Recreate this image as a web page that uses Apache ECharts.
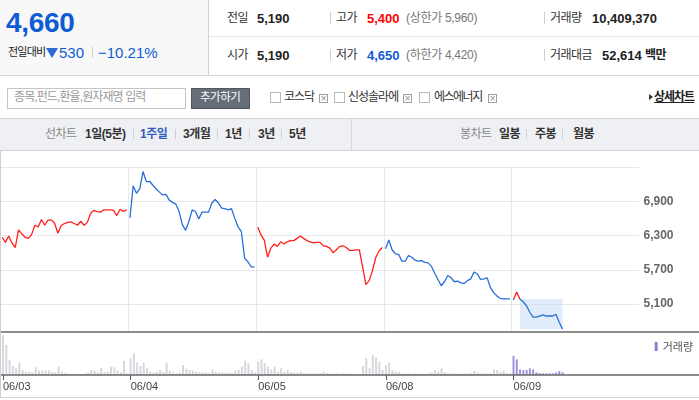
<!DOCTYPE html>
<html><head><meta charset="utf-8">
<script src="https://cdn.jsdelivr.net/npm/echarts@6/dist/echarts.min.js"></script>
<style>
body{margin:0;width:699px;height:400px;overflow:hidden;background:#fff;font-family:"Liberation Sans","Noto Sans CJK KR",sans-serif;position:relative}
.a{position:absolute;white-space:nowrap;line-height:1}
.k{font-size:12px;color:#333;letter-spacing:-0.5px}
.n{font-size:13px;font-weight:bold;color:#222}
.g{font-size:12px;color:#777;letter-spacing:-0.3px}
.vs{position:absolute;width:1px;background:#cfcfcf}
.cb{position:absolute;width:9px;height:9px;border:1px solid #b8b8b8;background:#fff}
.xb{position:absolute;width:7px;height:7px;border:1px solid #a0a0a0;font-size:8px;line-height:7px;text-align:center;color:#888;font-family:"DejaVu Sans"}
.t{position:absolute;top:128px;font-size:12px;line-height:12px;white-space:nowrap;letter-spacing:-0.5px}
</style></head><body>

<!-- header -->
<div style="position:absolute;left:0;top:0;width:208px;height:75px;background:#f8f8f8;border-right:1px solid #d2d2d2"></div>
<div style="position:absolute;left:0;top:75px;width:699px;height:1px;background:#d5d5d5"></div>
<div style="position:absolute;left:209px;top:36px;width:490px;height:1px;background:#e6e6e6"></div>

<div class="a" style="left:6px;top:9px;font-size:28px;font-weight:bold;color:#0f5bd5;letter-spacing:-0.3px">4,660</div>
<div class="a" style="left:8px;top:47px;font-size:11px;color:#222;letter-spacing:-0.8px">전일대비</div>
<div style="position:absolute;left:46px;top:48px;width:0;height:0;border-left:6px solid transparent;border-right:6px solid transparent;border-top:10px solid #2d6bd6"></div>
<div class="a" style="left:59px;top:45px;font-size:15px;color:#0f5bd5">530</div>
<div class="vs" style="left:92px;top:47px;height:11px;background:#d0d0d0"></div>
<div class="a" style="left:98px;top:45px;font-size:15px;color:#0f5bd5">−10.21%</div>

<div class="a k" style="left:227px;top:12px">전일</div>
<div class="a n" style="left:257px;top:12px">5,190</div>
<div class="vs" style="left:330px;top:12px;height:12px"></div>
<div class="a k" style="left:336px;top:12px">고가</div>
<div class="a n" style="left:367px;top:12px;color:#f00">5,400</div>
<div class="a g" style="left:406px;top:12px">(상한가 5,960)</div>
<div class="vs" style="left:544px;top:12px;height:12px"></div>
<div class="a k" style="left:550px;top:12px">거래량</div>
<div class="a n" style="left:592px;top:12px">10,409,370</div>

<div class="a k" style="left:227px;top:49px">시가</div>
<div class="a n" style="left:257px;top:49px">5,190</div>
<div class="vs" style="left:330px;top:49px;height:12px"></div>
<div class="a k" style="left:336px;top:49px">저가</div>
<div class="a n" style="left:367px;top:49px;color:#0f5bd5">4,650</div>
<div class="a g" style="left:406px;top:49px">(하한가 4,420)</div>
<div class="vs" style="left:544px;top:49px;height:12px"></div>
<div class="a k" style="left:550px;top:49px">거래대금</div>
<div class="a n" style="left:602px;top:49px">52,614</div>
<div class="a k" style="left:645px;top:49px;font-weight:bold;color:#222">백만</div>

<!-- search row -->
<div style="position:absolute;left:7px;top:88px;width:177px;height:19px;border:1px solid #c5c5c5;background:#fff"></div>
<div class="a" style="left:14px;top:91px;font-size:12px;color:#9a9a9a;letter-spacing:-0.9px">종목,펀드,환율,원자재명 입력</div>
<div style="position:absolute;left:191px;top:88px;width:57px;height:19px;background:#666e78;border:1px solid #50575f"></div>
<div class="a" style="left:200px;top:92px;font-size:11.5px;color:#fff;letter-spacing:-0.5px">추가하기</div>

<div class="cb" style="left:270px;top:92px"></div>
<div class="a" style="left:284px;top:91px;font-size:12px;color:#333;letter-spacing:-1px">코스닥</div>
<div class="xb" style="left:319px;top:94px">×</div>
<div class="cb" style="left:334px;top:92px"></div>
<div class="a" style="left:348px;top:91px;font-size:12px;color:#333;letter-spacing:-1px">신성솔라에</div>
<div class="xb" style="left:403px;top:94px">×</div>
<div class="cb" style="left:419px;top:92px"></div>
<div class="a" style="left:434px;top:91px;font-size:12px;color:#333;letter-spacing:-1.5px">에스에너지</div>
<div class="xb" style="left:488px;top:94px">×</div>
<div style="position:absolute;left:649px;top:94px;width:0;height:0;border-top:3px solid transparent;border-bottom:3px solid transparent;border-left:4px solid #333"></div>
<div class="a" style="left:654px;top:91px;font-size:12px;font-weight:bold;color:#222;text-decoration:underline;letter-spacing:-1px">상세차트</div>

<!-- tab bar -->
<div style="position:absolute;left:0;top:118px;width:699px;height:31px;background:#eef0f4;border-top:1px solid #d3d6dc;border-bottom:1px solid #d0d0d0"></div>
<div class="vs" style="left:351px;top:119px;height:31px;background:#d3d6dc"></div>
<div class="t" style="left:45px;color:#888">선차트</div>
<div class="t" style="left:85px;color:#333;font-weight:bold">1일(5분)</div>
<div class="vs" style="left:133px;top:129px;height:10px"></div>
<div class="t" style="left:140px;color:#3459bd;font-weight:bold">1주일</div>
<div class="vs" style="left:175px;top:129px;height:10px"></div>
<div class="t" style="left:183px;color:#333;font-weight:bold">3개월</div>
<div class="vs" style="left:217px;top:129px;height:10px"></div>
<div class="t" style="left:225px;color:#333;font-weight:bold">1년</div>
<div class="vs" style="left:249px;top:129px;height:10px"></div>
<div class="t" style="left:258px;color:#333;font-weight:bold">3년</div>
<div class="vs" style="left:281px;top:129px;height:10px"></div>
<div class="t" style="left:289px;color:#333;font-weight:bold">5년</div>
<div class="t" style="left:460px;color:#888">봉차트</div>
<div class="t" style="left:499px;color:#333;font-weight:bold">일봉</div>
<div class="vs" style="left:526px;top:129px;height:10px"></div>
<div class="t" style="left:535px;color:#333;font-weight:bold">주봉</div>
<div class="vs" style="left:562px;top:129px;height:10px"></div>
<div class="t" style="left:573px;color:#333;font-weight:bold">월봉</div>

<div id="chart" style="position:absolute;left:0;top:150px;width:699px;height:250px"></div>
<div style="position:absolute;left:0;top:151px;width:1px;height:247px;background:#cfcfcf;z-index:5"></div>
<div style="position:absolute;left:0;top:397px;width:699px;height:1px;background:#d5d5d5;z-index:5"></div>

<script>
// ---- data ----
const dates = ['06/03', '06/04', '06/05', '06/08', '06/09'];
const slotTimes = [];
for (let m = 0; m < 39; m++) {
  const t = 9 * 60 + m * 10;
  slotTimes.push(String(Math.floor(t / 60)).padStart(2, '0') + ':' + String(t % 60).padStart(2, '0'));
}
const prevClose = 5190;
const yTickValues = [5100, 5700, 6300, 6900, 7500];
const yLabelValues = [5100, 5700, 6300, 6900];

const priceDay1 = [6270,6180,6290,6170,6090,6400,6330,6270,6250,6320,6480,6450,6580,6480,6570,6570,6520,6340,6470,6510,6530,6540,6510,6480,6550,6480,6530,6690,6740,6720,6710,6750,6750,6750,6740,6650,6760,6720,6750];
const priceDay2 = [6610,7170,7040,7120,7420,7240,7250,7180,7120,7060,7010,7020,6920,6880,6850,6720,6490,6390,6550,6750,6720,6590,6710,6710,6710,6870,6930,6870,6780,6770,6750,6770,6600,6450,6370,5900,5840,5750,5750];
const priceDay3 = [6450,6310,6220,5920,6080,6150,6110,6190,6150,6190,6210,6210,6250,6290,6250,6210,6190,6170,6180,6180,6120,6110,6080,6000,6050,6110,6120,6090,6040,6040,6050,6050,5750,5440,5510,5680,5910,6030,6090];
const priceDay4 = [6070,6220,6050,5980,5970,5850,5850,5950,5920,5870,5850,5860,5830,5820,5760,5640,5530,5420,5490,5600,5560,5490,5500,5470,5460,5510,5540,5660,5630,5530,5540,5560,5390,5300,5240,5200,5190,5190,5190];
const priceDay5 = [5170,5310,5190,5140,5070,4960,4870,4870,4890,4910,4890,4890,4890,4920,4780,4660];

// volume, thousand shares
const volDay1 = [4800,3600,1800,1080,800,1480,600,400,360,320,920,520,520,520,560,360,320,1000,400,240,160,160,160,120,120,160,320,600,480,320,880,320,400,1000,920,520,320,1680,200];
const volDay2 = [2000,2600,1480,1080,1480,800,400,280,400,600,400,1480,520,320,200,280,1200,760,600,520,400,320,320,280,200,680,400,280,320,280,240,280,520,640,1000,1720,1400,600,320];
const volDay3 = [1600,1880,1400,1000,680,1000,400,800,400,600,320,280,280,400,240,200,200,200,200,200,400,240,200,200,200,160,200,200,160,120,120,120,1080,2000,800,2400,2120,1600,600];
const volDay4 = [1200,1480,600,400,320,200,200,200,160,160,160,160,160,200,320,600,400,800,360,200,200,200,160,200,200,200,240,480,320,200,200,200,200,680,600,400,520,240,200];
const volDay5 = [2280,1880,680,600,600,800,680,320,240,200,200,200,200,320,480,320];

// ---- build ----
const SLOTS = slotTimes.length;
const categories = [];
dates.forEach(d => slotTimes.forEach(t => categories.push(d + ' ' + t)));
const pastDays = [priceDay1, priceDay2, priceDay3, priceDay4];
const pad = (day, arr) => new Array(day * SLOTS).fill(null).concat(arr);
const volumes = [].concat(volDay1, volDay2, volDay3, volDay4, volDay5);
const todayStart = 4 * SLOTS;

const RED = '#ff1f1f', BLUE = '#2a6fd8';
const dayColors = [RED, BLUE, RED, BLUE];

const series = pastDays.map((arr, i) => ({
  type: 'line', xAxisIndex: 0, yAxisIndex: 0,
  data: pad(i, arr), showSymbol: false, connectNulls: false,
  lineStyle: { width: 1.3, color: dayColors[i] }, itemStyle: { color: dayColors[i] },
  silent: true
}));
series.push({
  type: 'line', xAxisIndex: 0, yAxisIndex: 0,
  data: pad(4, priceDay5), showSymbol: false,
  lineStyle: { width: 1.3, color: BLUE }, silent: true,
  markArea: {
    silent: true,
    itemStyle: { color: 'rgba(196,218,246,0.5)' },
    data: [[
      { xAxis: categories[todayStart + 2], yAxis: prevClose },
      { xAxis: categories[todayStart + priceDay5.length - 1], yAxis: priceDay5[priceDay5.length - 1] }
    ]]
  }
});
series.push({
  name: '거래량', type: 'bar', xAxisIndex: 1, yAxisIndex: 1,
  data: volumes, barWidth: 2, silent: true,
  itemStyle: { color: p => p.dataIndex >= todayStart ? '#a293d9' : '#d5d8dd' }
});

const dayTick = (i) => i % SLOTS === 0;

const chart = echarts.init(document.getElementById('chart'));
chart.setOption({
  animation: false,
  backgroundColor: 'transparent',
  grid: [
    { left: 0.5, right: 59.5, top: 17, height: 165 },
    { left: 0.5, right: 59.5, top: 182, height: 43 }
  ],
  xAxis: [
    { type: 'category', gridIndex: 0, data: categories, boundaryGap: true,
      axisLine: { show: false }, axisTick: { show: false }, axisLabel: { show: false },
      splitLine: { show: true, interval: dayTick, showMaxLine: false, lineStyle: { color: '#e8e8e8', width: 1 } } },
    { type: 'category', gridIndex: 1, data: categories, boundaryGap: true,
      axisLine: { show: false },
      axisTick: { show: true, interval: dayTick, alignWithLabel: true, length: 5, lineStyle: { color: '#555', width: 1 } },
      axisLabel: { show: true, interval: dayTick, formatter: v => v.split(' ')[0],
        align: 'left', margin: 6, fontSize: 11, color: '#444', fontFamily: 'Liberation Sans' },
      splitLine: { show: false } }
  ],
  yAxis: [
    { type: 'value', gridIndex: 0, position: 'right', min: 4610, max: 7500, scale: true,
      axisLine: { show: false },
      axisTick: { show: false, customValues: yTickValues },
      axisLabel: { customValues: yLabelValues, margin: 4, fontSize: 12, fontWeight: 'bold', color: '#666',
        fontFamily: 'Liberation Sans', formatter: v => v.toLocaleString('en-US') },
      splitLine: { show: true, lineStyle: { color: '#e8e8e8', width: 1 } } },
    { type: 'value', gridIndex: 1, min: 0, max: 5160, show: false, splitLine: { show: false } }
  ],
  legend: {
    data: [{ name: '거래량', itemStyle: { color: '#8e7fd0' } }],
    right: 1, top: 186, icon: 'rect', itemWidth: 3, itemHeight: 9, itemGap: 3,
    textStyle: { fontSize: 11, color: '#555', fontFamily: 'Noto Sans CJK KR' },
    selectedMode: false
  },
  graphic: [
    { type: 'line', shape: { x1: 0, y1: 182, x2: 699, y2: 182 }, style: { stroke: '#666', lineWidth: 1.5 }, z: 100 },
    { type: 'line', shape: { x1: 0, y1: 225, x2: 699, y2: 225 }, style: { stroke: '#666', lineWidth: 1.5 }, z: 100 }
  ],
  series
});

// colour today's line red above the previous close, blue below (threshold placed by the axis scale)
const H = chart.getHeight();
const yPrev = chart.convertToPixel({ yAxisIndex: 0 }, prevClose);
const f = Math.min(1, Math.max(0, yPrev / H));
chart.setOption({
  series: [{}, {}, {}, {}, {
    lineStyle: {
      color: new echarts.graphic.LinearGradient(0, 0, 0, H, [
        { offset: 0, color: RED }, { offset: f, color: RED },
        { offset: f, color: BLUE }, { offset: 1, color: BLUE }
      ], true)
    }
  }]
});
</script>
</body></html>
